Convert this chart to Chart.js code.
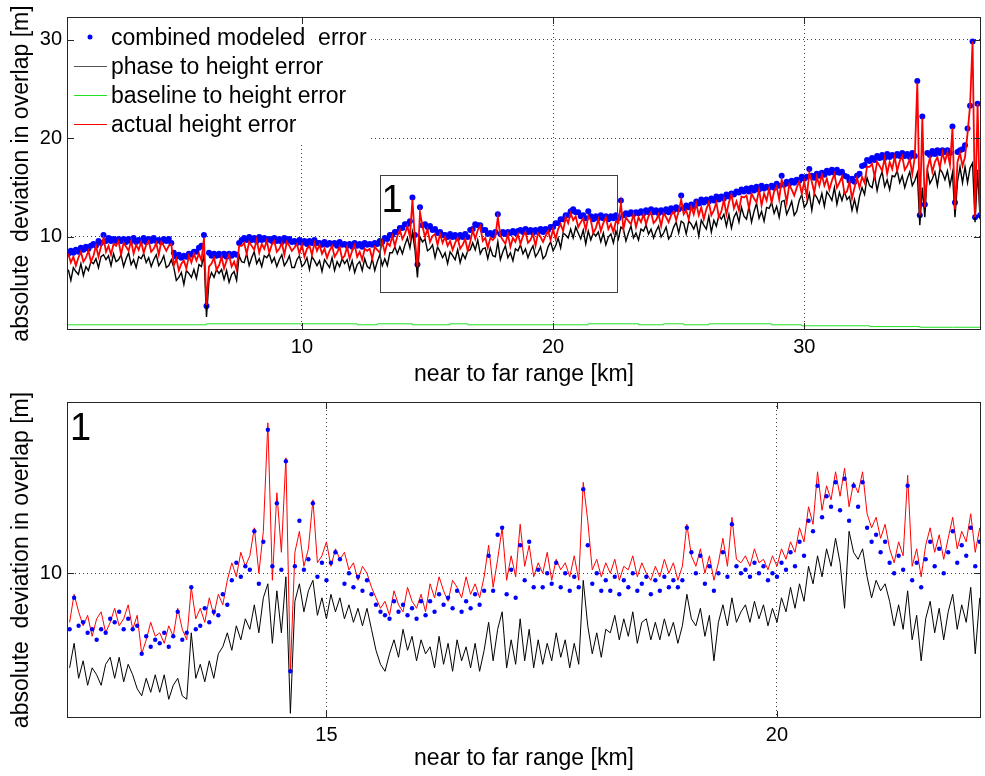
<!DOCTYPE html>
<html>
<head>
<meta charset="utf-8">
<script src="https://cdn.jsdelivr.net/npm/chart.js@4.4.1/dist/chart.umd.min.js"></script>
<style>
  html, body { margin: 0; padding: 0; background: #fff; }
  #wrap { position: relative; width: 985px; height: 776px; overflow: hidden; }
  #chart-top { position: absolute; left: 0; top: 0; }
  #chart-bottom { position: absolute; left: 0; top: 380px; }
</style>
</head>
<body>
<div id="wrap">
  <canvas id="chart-top" width="985" height="392"></canvas>
  <canvas id="chart-bottom" width="985" height="396"></canvas>
</div>
<script>
// ---- data: full swath (top panel), sampled every 0.1 km from 0.7 km ----
const TOP_X0 = 0.7;
const TOP_DX = 0.1;

const topActual = [
  8.3,7.4,8.0,7.1,7.9,8.5,7.5,7.9,8.6,7.5,
  8.1,9.1,8.0,9.0,9.9,8.5,9.1,8.2,9.3,9.1,
  9.6,8.2,9.4,9.0,8.6,9.6,8.3,9.2,8.7,9.5,
  8.4,9.2,9.6,8.5,8.8,9.4,8.2,9.5,9.1,8.6,
  9.1,9.3,7.1,7.8,6.6,7.3,7.6,6.8,8.1,7.4,
  8.3,7.6,8.3,7.6,9.9,3.1,7.0,7.3,7.9,6.7,
  7.1,8.0,6.8,7.6,8.2,7.0,7.5,6.7,9.1,9.1,
  9.4,8.3,9.5,9.1,8.7,9.7,8.4,9.3,8.8,9.6,
  8.4,9.2,9.6,8.5,8.8,9.4,8.2,9.5,9.1,8.6,
  8.9,9.3,8.3,9.2,8.0,8.8,9.1,8.2,9.4,8.6,
  9.2,8.3,8.8,7.9,8.6,9.1,8.0,8.4,9.0,7.8,
  8.1,9.0,7.8,8.6,9.2,8.0,8.5,7.7,8.8,8.6,
  8.8,7.8,9.0,8.7,8.4,9.5,8.4,9.4,9.1,10.1,
  9.1,10.1,10.7,9.8,10.3,11.1,10.0,13.8,9.7,7.0,
  12.5,11.1,10.0,10.8,9.5,10.1,10.3,9.2,10.3,9.4,
  10.0,9.1,9.6,8.7,9.4,9.9,8.8,9.2,9.8,8.6,
  9.5,10.7,9.8,10.7,11.1,9.6,9.9,8.9,9.9,9.7,
  10.0,12.0,10.1,9.7,9.3,10.3,9.0,9.9,9.5,10.3,
  9.3,10.1,10.5,9.4,9.7,10.3,9.1,10.4,10.0,9.5,
  10.1,10.6,9.7,10.8,9.8,10.8,11.3,10.6,12.0,11.4,
  12.4,11.7,12.1,11.0,11.5,11.9,10.7,12.1,11.7,10.4,
  10.9,11.8,10.6,11.4,12.0,10.8,11.3,10.5,11.6,11.4,
  13.4,10.8,12.0,11.6,11.3,12.3,11.0,12.0,11.5,12.3,
  11.3,12.1,12.5,11.4,11.7,12.3,11.1,12.4,12.0,11.5,
  12.2,12.6,11.7,12.6,13.8,12.3,12.7,11.8,13.1,12.3,
  13.4,12.2,13.0,11.8,12.8,13.5,12.2,12.7,13.5,12.0,
  12.6,13.8,12.3,13.5,14.3,12.9,13.6,12.7,14.1,14.0,
  14.2,12.9,14.4,13.9,13.5,14.8,13.2,14.4,13.7,14.9,
  13.5,14.6,15.1,13.8,15.8,15.0,13.5,15.3,14.8,14.2,
  15.0,15.6,14.4,15.6,14.1,16.5,15.6,14.5,16.1,15.2,
  16.3,15.2,15.9,14.8,15.7,16.4,15.0,15.5,16.1,14.4,
  14.6,15.6,13.9,15.0,16.0,15.0,16.1,15.5,17.1,17.1,
  17.4,16.1,17.6,17.2,16.7,18.0,16.4,17.6,16.9,18.1,
  16.7,17.7,18.2,16.8,17.2,17.9,16.4,18.1,25.6,12.2,
  22.0,13.0,16.9,18.0,16.6,17.6,18.1,17.0,18.6,17.6,
  18.6,17.3,21.0,12.8,17.6,18.5,17.2,18.1,20.5,23.3,
  29.8,12.0,23.5,12.2
];

const topPhase = [
  6.7,5.6,6.9,6.5,6.2,7.3,6.1,7.0,6.6,7.5,
  7.3,7.8,6.9,8.0,8.2,7.7,8.1,7.1,8.3,7.5,
  7.7,8.2,7.0,7.8,8.4,7.2,7.7,6.9,8.0,7.8,
  8.3,7.4,7.9,7.0,7.7,8.2,7.1,7.5,8.1,6.9,
  7.1,7.7,6.9,5.6,5.9,6.4,5.2,6.6,6.3,5.9,
  6.7,5.8,7.2,7.0,8.2,1.9,5.6,6.4,5.9,6.7,
  6.3,6.7,5.7,6.6,5.4,6.2,6.5,5.6,8.1,7.5,
  7.4,8.3,7.1,7.9,8.5,7.3,7.8,7.0,8.1,7.9,
  8.3,7.4,7.9,7.0,7.7,8.2,7.1,7.5,8.1,6.9,
  6.9,7.7,8.1,7.0,7.3,7.9,6.7,8.0,7.6,7.1,
  7.6,6.5,7.7,7.3,6.9,7.9,6.6,7.5,7.0,7.8,
  7.3,7.7,6.7,7.6,6.4,7.2,7.5,6.6,7.8,7.0,
  6.8,7.8,6.6,7.5,8.2,7.1,7.8,7.1,8.4,8.4,
  9.0,8.3,9.0,8.3,9.2,9.9,8.9,10.5,8.7,5.9,
  10.0,9.5,9.8,8.6,8.8,9.2,7.9,9.0,8.5,7.9,
  8.4,7.3,8.5,8.1,7.7,8.7,7.4,8.3,7.8,8.6,
  8.7,9.4,8.7,9.7,8.3,8.8,8.9,7.8,8.9,8.1,
  8.0,9.5,7.7,8.5,9.1,7.9,8.4,7.6,8.8,8.6,
  9.2,8.3,8.8,7.9,8.6,9.1,8.0,8.4,9.0,7.8,
  8.1,9.0,9.5,8.6,9.1,9.9,8.9,10.4,10.2,9.9,
  10.8,9.9,11.0,10.4,9.8,10.7,9.3,10.6,9.7,10.4,
  10.1,10.5,9.5,10.4,9.2,10.0,10.3,9.4,10.6,9.8,
  11.0,10.8,9.6,10.4,11.1,9.9,10.4,9.7,10.8,10.6,
  11.2,10.3,10.8,9.9,10.6,11.1,10.0,10.4,11.0,9.8,
  10.2,11.0,11.5,10.4,11.6,11.4,10.3,11.6,11.3,10.8,
  11.5,10.1,11.7,11.2,10.8,12.1,10.5,11.7,11.1,12.2,
  11.8,12.3,11.1,12.3,10.9,12.0,12.5,11.5,13.0,12.1,
  11.8,13.1,11.5,12.6,13.4,11.9,12.6,11.6,13.0,12.9,
  13.5,12.4,13.1,12.0,13.6,13.7,12.3,12.9,13.6,12.2,
  12.6,13.7,14.3,13.0,13.4,14.4,12.7,14.4,14.0,13.4,
  14.4,13.1,14.6,14.2,13.7,15.0,13.3,14.5,13.7,14.6,
  13.8,14.1,12.7,13.8,12.6,14.1,15.0,14.3,16.0,15.2,
  15.0,16.3,14.7,15.9,16.6,15.1,15.8,14.8,16.2,16.1,
  16.7,15.5,16.2,15.0,15.9,16.6,15.2,15.7,16.5,11.2,
  15.0,12.0,16.8,15.4,15.9,16.6,15.2,16.9,16.5,15.8,
  16.7,15.2,16.5,12.0,15.6,17.1,15.5,17.1,15.5,17.0,
  17.5,11.5,16.8,11.8
];

const topModeled = [
  8.3,8.6,8.4,8.7,8.5,8.9,8.7,9.0,8.8,9.1,
  9.3,9.1,9.6,9.4,10.2,9.6,9.9,9.6,9.8,9.6,
  9.8,9.6,9.8,9.5,9.8,9.6,9.9,9.5,9.7,9.6,
  9.9,9.5,9.8,9.6,9.9,9.6,9.7,9.5,9.8,9.6,
  9.8,9.4,8.4,8.0,8.2,7.9,8.1,8.0,8.3,8.2,
  8.5,8.5,8.9,9.1,10.2,3.0,8.4,8.1,8.3,8.1,
  8.3,8.1,8.3,8.0,8.3,8.1,8.3,8.2,9.4,9.7,
  9.9,9.7,10.0,9.7,9.9,9.6,10.0,9.7,9.9,9.7,
  9.8,9.6,9.9,9.6,9.8,9.5,9.9,9.6,9.8,9.5,
  9.6,9.4,9.7,9.4,9.6,9.3,9.6,9.4,9.7,9.4,
  9.4,9.2,9.5,9.2,9.4,9.3,9.4,9.1,9.5,9.2,
  9.3,9.1,9.3,9.0,9.4,9.1,9.3,9.0,9.4,9.2,
  9.3,9.2,9.4,9.3,9.6,9.5,9.9,9.8,10.2,10.2,
  10.5,10.5,10.9,10.9,11.3,11.3,11.6,14.0,10.2,7.2,
  13.0,11.2,11.3,11.0,11.1,10.7,10.8,10.4,10.5,10.2,
  10.2,10.0,10.3,10.0,10.2,9.9,10.2,10.0,10.3,10.0,
  10.7,10.8,11.3,11.2,11.2,10.7,10.7,10.3,10.4,10.2,
  10.5,12.3,10.3,10.5,10.3,10.5,10.4,10.6,10.4,10.6,
  10.7,10.5,10.8,10.5,10.7,10.4,10.7,10.5,10.8,10.5,
  10.8,10.7,11.0,11.0,11.4,11.4,11.8,11.8,12.2,12.2,
  12.6,12.8,12.5,12.5,12.1,12.2,11.9,12.6,12.1,11.8,
  12.1,11.9,12.2,11.9,12.1,11.8,12.1,11.9,12.2,11.9,
  13.7,12.2,12.4,12.3,12.5,12.3,12.5,12.4,12.6,12.4,
  12.7,12.5,12.8,12.5,12.7,12.4,12.7,12.5,12.8,12.5,
  12.9,12.7,13.0,12.8,14.2,12.9,13.2,13.0,13.3,13.1,
  13.6,13.4,13.8,13.5,13.8,13.6,13.9,13.7,14.1,13.8,
  14.1,13.9,14.3,14.1,14.4,14.3,14.6,14.5,14.8,14.6,
  14.9,14.6,15.0,14.7,15.1,14.8,15.2,14.9,15.1,15.0,
  15.2,15.0,15.4,15.2,16.2,15.3,15.6,15.4,15.7,15.5,
  15.8,15.7,16.1,15.9,16.1,16.9,16.2,16.0,16.4,16.2,
  16.5,16.3,16.7,16.5,16.8,16.5,16.8,16.5,16.6,16.2,
  16.1,15.7,15.9,15.6,16.2,16.4,17.2,17.3,17.8,17.7,
  18.0,17.8,18.2,18.0,18.3,18.0,18.4,18.1,18.3,18.2,
  18.4,18.2,18.5,18.2,18.4,18.1,18.5,18.2,25.8,12.2,
  22.2,13.3,18.5,18.3,18.7,18.4,18.8,18.5,18.8,18.6,
  18.8,18.5,21.2,13.5,18.6,18.8,18.9,19.3,21.0,23.3,
  29.8,12.0,23.5,12.2
];

// baseline to height error: piecewise constant, breakpoints in km
const baselineKm  = [0.65, 6.2, 12.2, 13.0, 14.4, 15.9, 16.6, 21.4, 23.4, 24.4, 25.2, 26.2, 28.7, 29.9, 32.6, 34.6, 35.9, 37.04];
const baselineErr = [1.0, 1.1, 1.2, 1.1, 1.2, 1.1, 1.2, 1.1, 1.2, 1.1, 1.2, 1.1, 1.2, 1.1, 1.0, 0.92, 0.85, 0.85];

// ---- data: zoom window "1" (bottom panel), sampled every 0.05 km from 12.15 km ----
const BOT_X0 = 12.15;
const BOT_DX = 0.05;

const botActual = [
  8.6,9.4,8.9,8.5,8.8,8.2,8.7,8.9,8.3,8.6,
  9.0,8.5,8.7,9.1,8.4,8.8,7.7,8.1,8.6,8.2,
  8.3,8.0,8.5,8.2,9.0,8.4,8.1,9.6,8.7,9.0,
  8.6,9.3,8.8,9.4,9.1,9.8,10.3,9.9,10.6,10.2,
  10.5,11.3,10.0,11.2,14.3,9.8,12.3,10.6,13.3,7.2,
  10.6,11.2,10.2,10.7,12.1,10.3,10.5,10.9,10.2,10.7,
  10.4,10.6,10.1,10.3,9.8,10.2,10.0,9.6,9.3,9.0,
  9.2,8.8,9.5,9.1,8.9,9.6,9.2,9.0,9.4,8.9,
  9.7,9.3,9.9,9.5,9.2,9.8,9.6,9.3,9.9,9.4,
  9.7,9.3,9.9,10.8,9.6,10.4,11.3,9.8,10.5,9.9,
  11.4,10.2,10.8,9.9,10.3,10.0,10.6,9.8,10.4,10.1,
  10.3,9.9,10.5,9.8,12.6,11.5,10.1,10.4,9.9,10.3,
  10.0,10.4,9.8,10.2,10.1,10.5,9.9,10.3,10.0,9.8,
  10.2,9.9,10.4,10.0,10.3,9.8,10.2,11.4,10.5,10.2,
  10.7,10.0,10.5,9.8,10.3,11.0,10.2,11.6,10.4,10.3,
  10.5,10.2,10.7,10.3,10.4,10.1,10.5,10.2,10.7,10.4,
  10.9,10.6,11.3,10.9,11.9,11.4,12.9,11.8,12.5,12.1,
  12.9,12.2,13.0,11.9,12.6,12.3,12.9,11.7,11.3,11.6,
  11.0,11.4,10.7,10.3,10.9,10.5,12.8,10.2,10.7,9.9,
  10.8,11.3,10.6,11.1,10.4,11.0,11.6,10.7,11.2,10.9,
  11.7,10.6,11.3
];

const botModeled = [
  8.4,9.3,8.5,8.6,8.3,8.4,8.1,8.4,8.3,8.7,
  8.6,8.9,8.4,8.7,8.4,8.5,7.7,8.2,7.9,8.1,
  8.0,8.3,7.9,8.2,8.9,8.1,8.3,9.6,8.4,8.5,
  9.0,8.6,8.9,8.8,9.4,9.1,9.8,10.3,9.9,10.2,
  10.1,11.2,9.7,10.9,14.1,10.2,12.0,10.1,13.2,7.2,
  10.2,11.5,10.1,10.4,12.0,9.9,10.3,9.8,10.3,10.6,
  10.4,9.7,10.0,9.6,9.9,9.5,9.8,9.4,9.1,8.9,
  8.8,8.7,9.2,8.9,9.1,8.8,9.0,8.7,9.2,8.8,
  9.2,8.9,9.4,9.1,9.3,9.0,9.5,8.9,9.2,9.0,
  9.4,9.1,9.5,10.5,9.5,11.1,11.3,9.4,10.1,9.3,
  10.8,9.8,10.9,9.6,10.1,9.6,10.0,9.7,10.3,9.6,
  10.0,9.5,9.9,9.6,12.4,10.8,9.7,10.0,9.5,9.8,
  9.5,9.9,9.4,9.8,9.6,10.0,9.5,9.7,9.9,9.4,
  9.8,9.5,9.9,9.6,9.8,9.6,9.8,11.3,10.6,10.0,
  10.5,9.7,10.2,9.5,10.0,10.6,9.9,11.4,10.2,10.0,
  10.1,9.9,10.3,10.0,10.2,9.8,10.0,9.9,10.3,10.1,
  10.6,10.2,10.9,10.5,11.5,11.2,12.5,11.6,12.2,11.9,
  12.6,11.8,12.7,11.5,12.5,11.9,12.6,11.3,10.9,11.1,
  10.6,10.9,10.3,10.0,10.5,10.1,12.5,9.8,10.3,9.6,
  10.4,10.9,10.2,10.7,10.0,10.6,11.2,10.3,10.8,10.5,
  11.3,10.2,10.9
];

const botPhase = [
  7.3,8.0,7.0,7.5,6.8,7.3,7.1,6.8,7.4,7.6,
  7.0,7.6,6.9,7.4,7.1,6.7,6.5,7.0,6.6,7.1,
  6.6,7.1,6.4,6.8,7.0,6.5,6.4,8.3,7.0,7.4,
  6.9,7.5,7.0,7.7,7.9,8.3,7.8,8.5,8.1,8.7,
  8.4,9.1,8.3,9.3,9.7,8.0,9.5,8.3,9.9,6.0,
  9.2,9.7,8.9,9.5,9.8,8.8,9.3,8.7,9.4,8.9,
  9.3,8.7,9.1,8.6,9.0,8.5,9.0,8.4,7.8,7.4,
  7.2,7.7,8.1,7.6,8.4,7.8,8.2,7.5,8.1,7.7,
  7.9,7.3,8.2,7.4,8.0,7.2,8.1,7.5,7.9,7.3,
  8.0,7.2,7.8,8.6,7.5,8.4,8.9,7.3,8.1,7.4,
  8.7,7.5,8.4,7.3,8.1,7.4,8.0,7.5,8.3,7.6,
  8.1,7.3,8.0,7.4,9.8,8.5,7.7,8.3,7.6,8.4,
  8.3,8.8,8.1,8.7,8.2,8.9,8.0,8.6,8.7,8.1,
  8.6,8.1,8.7,8.2,8.6,8.0,8.5,9.4,8.7,8.5,
  9.0,8.2,8.8,7.5,8.6,9.1,8.5,9.3,8.6,8.9,
  9.1,8.6,9.2,8.7,9.1,8.5,9.0,8.6,9.3,8.9,
  9.6,9.0,9.7,9.2,10.2,9.7,10.5,9.9,10.7,10.2,
  11.0,10.3,9.0,11.2,10.6,10.4,10.7,9.9,9.3,9.8,
  9.5,9.7,9.2,8.5,9.1,8.4,9.5,8.1,8.8,7.5,
  8.7,9.2,8.3,9.0,8.1,8.9,9.4,8.4,9.1,8.6,
  9.6,7.7,9.3
];

// ---- axes, labels ----
const TOP_X_TICKS = [10, 20, 30];
const TOP_Y_TICKS = [10, 20, 30];
const BOT_X_TICKS = [15, 20];
const BOT_Y_TICKS = [10];
const ZOOM_BOX = { x0: 13.11, x1: 22.55, y0: 4.46, y1: 16.33 };

const LEGEND_LABELS = [
  "combined modeled  error",
  "phase to height error",
  "baseline to height error",
  "actual height error",
];
const X_TITLE = "near to far range [km]";
const Y_TITLE = "absolute  deviation in overlap [m]";

const BLUE = "#0000ff";
const BLACK = "#000000";
const GREEN = "#22e022";
const RED = "#ff0000";
const LEGEND_COLORS = [BLUE, BLACK, GREEN, RED];

const FONT = "'Liberation Sans', Arial, Helvetica, sans-serif";

function toPoints(values, x0, dx) {
  return values.map((v, i) => ({ x: x0 + i * dx, y: v }));
}

function drawLegend(chart) {
  const { ctx, chartArea: a } = chart;
  ctx.fillStyle = "#fff";
  ctx.fillRect(a.left + 1, a.top + 3, 302, 123);
  ctx.font = `23px ${FONT}`;
  ctx.textBaseline = "alphabetic";
  LEGEND_LABELS.forEach((label, i) => {
    const base = a.top + 28 + 29 * i;
    if (i === 0) {
      ctx.fillStyle = LEGEND_COLORS[i];
      ctx.beginPath();
      ctx.arc(a.left + 23, base - 8, 2.5, 0, Math.PI * 2);
      ctx.fill();
    } else {
      ctx.strokeStyle = i === 1 ? "#555" : LEGEND_COLORS[i];
      ctx.lineWidth = 1.2;
      ctx.beginPath();
      ctx.moveTo(a.left + 7, base - 7.5);
      ctx.lineTo(a.left + 40, base - 7.5);
      ctx.stroke();
    }
    ctx.fillStyle = "#000";
    ctx.fillText(label, a.left + 44, base);
  });
}

// box, inward ticks, legend and the "1" tags (matlab style)
const framePlugin = {
  id: "frame",
  afterDraw(chart, _args, opts) {
    const { ctx, chartArea: a, scales: { x, y } } = chart;
    ctx.save();
    if (opts.legend) drawLegend(chart);

    ctx.strokeStyle = "#262626";
    ctx.lineWidth = 1;
    ctx.strokeRect(a.left + 0.5, a.top + 0.5, a.right - a.left - 1, a.bottom - a.top - 1);
    ctx.beginPath();
    x.ticks.forEach((t) => {
      const px = Math.round(x.getPixelForValue(t.value)) + 0.5;
      ctx.moveTo(px, a.bottom); ctx.lineTo(px, a.bottom - 7);
      ctx.moveTo(px, a.top); ctx.lineTo(px, a.top + 7);
    });
    y.ticks.forEach((t) => {
      const py = Math.round(y.getPixelForValue(t.value)) + 0.5;
      ctx.moveTo(a.left, py); ctx.lineTo(a.left + 7, py);
      ctx.moveTo(a.right, py); ctx.lineTo(a.right - 7, py);
    });
    ctx.stroke();

    ctx.fillStyle = "#000";
    ctx.font = `38px ${FONT}`;
    ctx.textBaseline = "alphabetic";
    if (opts.box) {
      const bx0 = Math.round(x.getPixelForValue(opts.box.x0)) + 0.5;
      const bx1 = Math.round(x.getPixelForValue(opts.box.x1)) + 0.5;
      const byTop = Math.round(y.getPixelForValue(opts.box.y1)) + 0.5;
      const byBot = Math.round(y.getPixelForValue(opts.box.y0)) + 0.5;
      ctx.strokeStyle = "#404040";
      ctx.strokeRect(bx0, byTop, bx1 - bx0, byBot - byTop);
      ctx.fillText(opts.tag, bx0 + 1, byTop + 36);
    } else if (opts.tag) {
      ctx.fillText(opts.tag, a.left + 3, a.top + 38);
    }
    ctx.restore();
  },
};

function axisOptions({ min, max, ticks, horizontal, size }) {
  return {
    type: "linear",
    min,
    max,
    afterBuildTicks: (scale) => { scale.ticks = ticks.map((value) => ({ value })); },
    afterFit: (scale) => {
      if (horizontal) scale.height = size;
      else scale.width = size;
    },
    grid: { color: "#3a3a3a", lineWidth: 1, drawTicks: false },
    border: { display: false, dash: [1, 3] },
    ticks: {
      padding: 5,
      color: "#000",
      autoSkip: false,
      maxRotation: 0,
      font: { family: FONT, size: 20 },
    },
    title: {
      display: true,
      text: horizontal ? X_TITLE : Y_TITLE,
      color: "#000",
      font: { family: FONT, size: 23 },
      padding: horizontal ? { top: 0, bottom: 4 } : { top: 8, bottom: 0 },
    },
  };
}

const baseOptions = {
  responsive: false,
  animation: false,
  devicePixelRatio: 1,
  events: [],
  elements: { line: { tension: 0 } },
};

new Chart(document.getElementById("chart-top"), {
  type: "line",
  data: {
    datasets: [
      { label: LEGEND_LABELS[3], data: toPoints(topActual, TOP_X0, TOP_DX), borderColor: RED, borderWidth: 1.8, pointRadius: 0 },
      { label: LEGEND_LABELS[2], data: baselineKm.map((x, i) => ({ x, y: baselineErr[i] })), borderColor: GREEN, borderWidth: 1, pointRadius: 0, stepped: "after" },
      { label: LEGEND_LABELS[1], data: toPoints(topPhase, TOP_X0, TOP_DX), borderColor: BLACK, borderWidth: 1.4, pointRadius: 0 },
      { label: LEGEND_LABELS[0], data: toPoints(topModeled, TOP_X0, TOP_DX), showLine: false, pointRadius: 3, pointBorderWidth: 0, pointBackgroundColor: BLUE, borderColor: BLUE },
    ],
  },
  options: {
    ...baseOptions,
    layout: { padding: { top: 12, right: 1, left: 0, bottom: 0 } },
    plugins: {
      legend: { display: false },
      tooltip: { enabled: false },
      frame: { legend: true, box: ZOOM_BOX, tag: "1" },
    },
    scales: {
      x: axisOptions({ min: 0.647, max: 37.036, ticks: TOP_X_TICKS, horizontal: true, size: 62 }),
      y: axisOptions({ min: 0.574, max: 32.29, ticks: TOP_Y_TICKS, horizontal: false, size: 67 }),
    },
  },
  plugins: [framePlugin],
});

new Chart(document.getElementById("chart-bottom"), {
  type: "line",
  data: {
    datasets: [
      { label: LEGEND_LABELS[0], data: toPoints(botModeled, BOT_X0, BOT_DX), showLine: false, pointRadius: 2.2, pointBorderWidth: 0, pointBackgroundColor: BLUE, borderColor: BLUE },
      { label: LEGEND_LABELS[3], data: toPoints(botActual, BOT_X0, BOT_DX), borderColor: RED, borderWidth: 1, pointRadius: 0 },
      { label: LEGEND_LABELS[1], data: toPoints(botPhase, BOT_X0, BOT_DX), borderColor: BLACK, borderWidth: 1, pointRadius: 0 },
    ],
  },
  options: {
    ...baseOptions,
    layout: { padding: { top: 22, right: 1, left: 0, bottom: 0 } },
    plugins: {
      legend: { display: false },
      tooltip: { enabled: false },
      frame: { legend: false, tag: "1" },
    },
    scales: {
      x: axisOptions({ min: 12.121, max: 22.264, ticks: BOT_X_TICKS, horizontal: true, size: 58 }),
      y: axisOptions({ min: 5.866, max: 14.894, ticks: BOT_Y_TICKS, horizontal: false, size: 67 }),
    },
  },
  plugins: [framePlugin],
});
</script>
</body>
</html>
